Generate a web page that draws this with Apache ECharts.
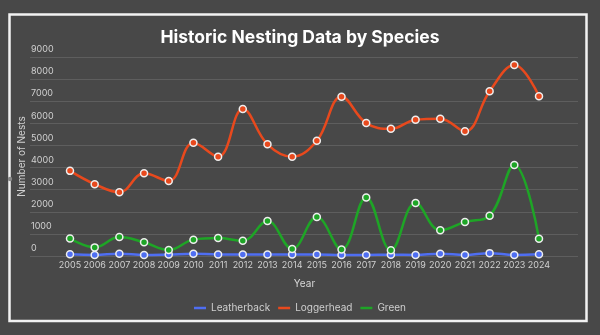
<!DOCTYPE html>
<html>
<head>
<meta charset="utf-8">
<script src="https://cdn.jsdelivr.net/npm/echarts@6/dist/echarts.min.js"></script>
<style>html,body{margin:0;padding:0;background:#484848;}#c{width:600px;height:335px;}</style>
</head>
<body>
<div id="c"></div>
<script>
const years = ['2005','2006','2007','2008','2009','2010','2011','2012','2013','2014','2015','2016','2017','2018','2019','2020','2021','2022','2023','2024'];
const leatherback = [80,50,100,50,70,100,70,70,70,70,70,50,50,60,50,100,50,130,50,80];
const loggerhead = [3850,3250,2880,3740,3390,5120,4490,6650,5050,4490,5210,7200,6010,5750,6160,6210,5640,7450,8640,7230];
const green = [790,390,860,620,270,740,810,690,1580,320,1760,290,2650,260,2400,1160,1540,1820,4120,780];
const yTicks = {min:0, max:9000, interval:1000};

const FONT = 'Inter, "Open Sans", sans-serif';
const chart = echarts.init(document.getElementById('c'), null, {renderer:'canvas'});
function mk(name, data, color){
  return {
    name, type:'line', data, smooth:0.4, xAxisIndex:1, yAxisIndex:1,
    symbol:'circle', symbolSize:7, showSymbol:true,
    lineStyle:{color, width:2.5},
    itemStyle:{color, borderColor:'#eeeeee', borderWidth:1.5},
    z: 3
  };
}
chart.setOption({
  backgroundColor:'#484848',
  animation:false,
  title:{text:'Historic Nesting Data by Species', left:'center', top:24,
    textStyle:{color:'#ffffff', fontSize:17.5, fontWeight:'bold', fontFamily:FONT}},
  grid:[
    {left:30, right:22, top:57, bottom:79},
    {left:70, right:61, top:57, bottom:79}
  ],
  xAxis:[
    {gridIndex:0, type:'category', data:years, show:false},
    {gridIndex:1, type:'category', data:years, boundaryGap:false,
     name:'Year', nameLocation:'middle', nameGap:23,
     nameTextStyle:{color:'#d8d8d8', fontSize:10, fontFamily:FONT},
     axisLine:{show:false}, axisTick:{show:false},
     axisLabel:{color:'#d0d0d0', fontSize:9, fontFamily:FONT, margin:5, interval:0}}
  ],
  yAxis:[
    {gridIndex:0, type:'value', min:yTicks.min, max:yTicks.max, interval:yTicks.interval,
     name:'Number of Nests', nameLocation:'middle', nameGap:3, nameRotate:90, nameMoveOverlap:false,
     nameTextStyle:{color:'#d0d0d0', fontSize:10, fontFamily:FONT},
     axisLine:{show:false}, axisTick:{show:false},
     splitLine:{lineStyle:{color:'#5e5e5e', width:1}},
     axisLabel:{inside:true, margin:1, color:'#d0d0d0', fontSize:9, fontFamily:FONT,
       verticalAlign:'bottom', padding:[0,0,3,0], formatter:function(v){return String(v);}}},
    {gridIndex:1, type:'value', min:yTicks.min, max:yTicks.max, interval:yTicks.interval, show:false,
     splitLine:{show:false}}
  ],
  legend:{bottom:17, left:'center', icon:'rect', itemWidth:12, itemHeight:2.5, itemGap:8,
    itemStyle:{borderWidth:0},
    textStyle:{color:'#cfcfcf', fontSize:10, fontFamily:FONT},
    data:['Leatherback','Loggerhead','Green']},
  series:[
    mk('Leatherback', leatherback, '#4f6ef2'),
    mk('Loggerhead', loggerhead, '#e8491d'),
    mk('Green', green, '#1ea526')
  ],
  graphic:[
    {type:'rect', shape:{x:9.5, y:14.5, width:577, height:306.5},
     style:{fill:'none', stroke:'#f2f2f2', lineWidth:2.5}, z:10, silent:true},
    {type:'circle', shape:{cx:10, cy:179, r:2.2}, style:{fill:'#8a8a8a'}, z:11, silent:true}
  ]
});
</script>
</body>
</html>
